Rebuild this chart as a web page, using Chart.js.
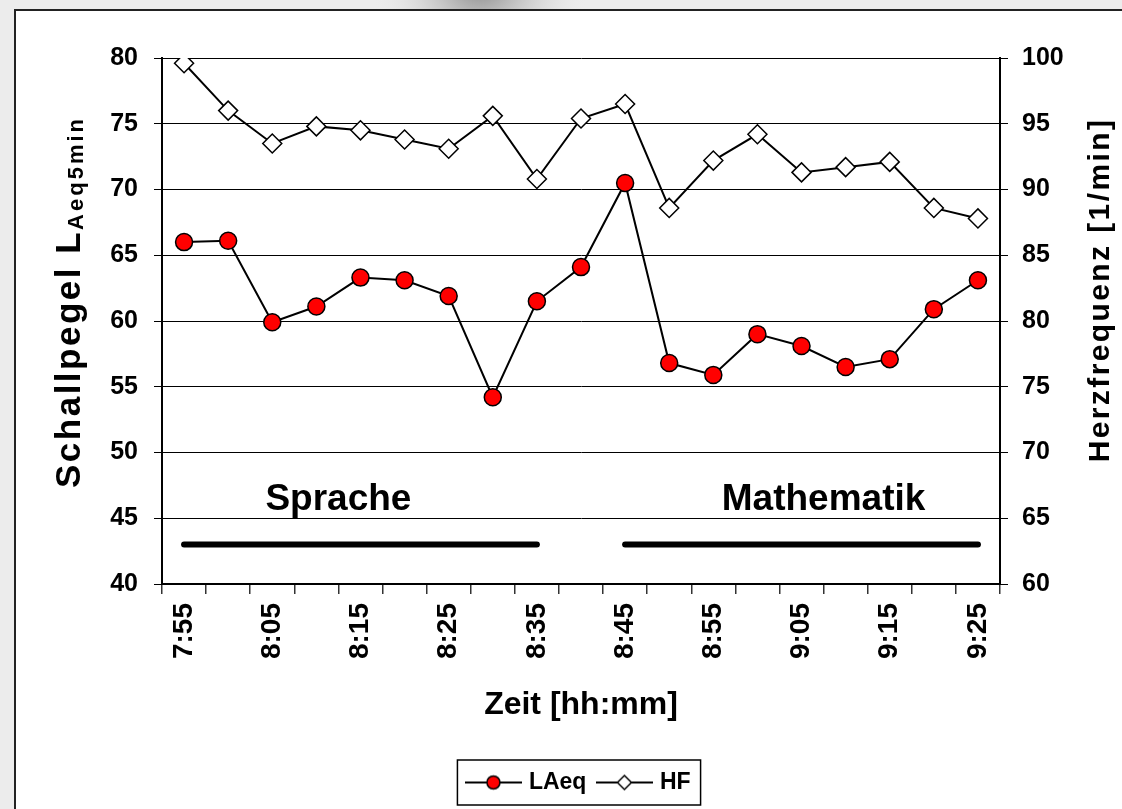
<!DOCTYPE html>
<html>
<head>
<meta charset="utf-8">
<title>Schallpegel und Herzfrequenz</title>
<script src="https://cdn.jsdelivr.net/npm/chart.js"></script>
<style>
  html, body { margin: 0; padding: 0; background: #ececec; }
  #wrap { position: absolute; left: 0; top: 0; width: 1122px; height: 809px; }
</style>
</head>
<body>
<div id="wrap"><canvas id="chart" width="1122" height="809"></canvas></div>
<script>
  // Zeitpunkte (5-min-Intervalle)
  const times = ['7:55', '8:00', '8:05', '8:10', '8:15', '8:20', '8:25', '8:30', '8:35', '8:40',
                 '8:45', '8:50', '8:55', '9:00', '9:05', '9:10', '9:15', '9:20', '9:25'];
  // Schallpegel LAeq,5min [dB(A)]
  const laeq = [66.0, 66.1, 59.9, 61.1, 63.3, 63.1, 61.9, 54.2, 61.5, 64.1,
                70.5, 56.8, 55.9, 59.0, 58.1, 56.5, 57.1, 60.9, 63.1];
  // Herzfrequenz [1/min]
  const hf = [99.6, 96.0, 93.5, 94.8, 94.5, 93.8, 93.1, 95.6, 90.8, 95.4,
              96.5, 88.6, 92.2, 94.2, 91.3, 91.7, 92.1, 88.6, 87.8];
  // Unterrichtsphasen
  const phaseNames = ['Sprache', 'Mathematik'];
  const phaseStart = [0, 10];
  const phaseEnd = [8, 18];
  const phaseLabelAt = [3.5, 14.5];
  const phaseLevel = 43;     // Höhe der Balken (linke Achse)
  const phaseTextLevel = 45.6;

  const FONT = '"Liberation Sans", Arial, Helvetica, sans-serif';
  const W = 1122, H = 809;

  const phaseData = phaseStart.map((s, k) =>
    times.map((t, i) => (i >= s && i <= phaseEnd[k]) ? phaseLevel : null));

  // kleine Legenden-Symbole: Linie mit Marker
  function legendSymbol(kind) {
    const c = document.createElement('canvas');
    c.width = 57; c.height = 20;
    const g = c.getContext('2d');
    g.strokeStyle = '#000'; g.lineWidth = 2;
    g.beginPath(); g.moveTo(0, 10); g.lineTo(57, 10); g.stroke();
    g.lineWidth = 1.5;
    g.beginPath();
    if (kind === 'circle') {
      g.fillStyle = '#ff0000';
      g.arc(28.5, 10, 6.5, 0, Math.PI * 2);
    } else {
      g.fillStyle = '#ffffff';
      g.moveTo(28.5, 3); g.lineTo(35.5, 10); g.lineTo(28.5, 17); g.lineTo(21.5, 10); g.closePath();
    }
    g.fill(); g.stroke();
    return c;
  }
  const symbols = [legendSymbol('circle'), legendSymbol('diamond')];

  // Rahmen + Hintergrund
  const framePlugin = {
    id: 'frame',
    beforeDraw(chart) {
      const ctx = chart.ctx;
      ctx.save();
      ctx.fillStyle = '#ececec';
      ctx.fillRect(0, 0, W, H);
      const g = ctx.createRadialGradient(480, -20, 5, 480, -20, 110);
      g.addColorStop(0, '#8a8a8a');
      g.addColorStop(1, 'rgba(236,236,236,0)');
      ctx.fillStyle = g;
      ctx.fillRect(330, 0, 300, 12);
      ctx.fillStyle = '#ffffff';
      ctx.fillRect(15, 10, W, H);
      ctx.strokeStyle = '#222';
      ctx.lineWidth = 2;
      ctx.beginPath();
      ctx.moveTo(15, H); ctx.lineTo(15, 10); ctx.lineTo(W, 10);
      ctx.stroke();
      ctx.restore();
    }
  };

  // Achsentitel, Phasen-Beschriftung, Legendenrahmen
  const extrasPlugin = {
    id: 'extras',
    afterDraw(chart) {
      const ctx = chart.ctx;
      const x = chart.scales.x, y = chart.scales.y;
      ctx.save();
      ctx.fillStyle = '#000';

      // Sprache / Mathematik
      ctx.font = 'bold 37px ' + FONT;
      ctx.textAlign = 'center';
      ctx.textBaseline = 'alphabetic';
      phaseNames.forEach((name, k) => {
        ctx.fillText(name, x.getPixelForValue(phaseLabelAt[k]), y.getPixelForValue(phaseTextLevel));
      });

      // linker Titel mit Index
      const mainTxt = 'Schallpegel L', subTxt = 'Aeq5min';
      ctx.letterSpacing = '2.5px';
      ctx.font = 'bold 35px ' + FONT;
      const w1 = ctx.measureText(mainTxt).width;
      ctx.letterSpacing = '3px';
      ctx.font = 'bold 22px ' + FONT;
      const w2 = ctx.measureText(subTxt).width;
      ctx.save();
      ctx.translate(80, 302);
      ctx.rotate(-Math.PI / 2);
      ctx.textAlign = 'left';
      ctx.letterSpacing = '2.5px';
      ctx.font = 'bold 35px ' + FONT;
      ctx.fillText(mainTxt, -(w1 + w2) / 2, 0);
      ctx.letterSpacing = '3px';
      ctx.font = 'bold 22px ' + FONT;
      ctx.fillText(subTxt, -(w1 + w2) / 2 + w1, 3);
      ctx.restore();

      // rechter Titel
      ctx.save();
      ctx.translate(1109, 290);
      ctx.rotate(-Math.PI / 2);
      ctx.textAlign = 'center';
      ctx.letterSpacing = '2.4px';
      ctx.font = 'bold 30px ' + FONT;
      ctx.fillText('Herzfrequenz [1/min]', 0, 0);
      ctx.restore();
      ctx.letterSpacing = '0px';

      // Rahmen um Legende
      const boxes = chart.legend.legendHitBoxes;
      if (boxes && boxes.length) {
        const l = Math.min(...boxes.map(b => b.left)) - 12;
        const r = Math.max(...boxes.map(b => b.left + b.width)) + 10;
        const t = Math.min(...boxes.map(b => b.top)) - 11;
        const b2 = Math.max(...boxes.map(b => b.top + b.height)) + 11;
        ctx.strokeStyle = '#000';
        ctx.lineWidth = 1.5;
        ctx.strokeRect(l, t, r - l, b2 - t);
      }
      ctx.restore();
    }
  };

  const ctx = document.getElementById('chart').getContext('2d');
  new Chart(ctx, {
    type: 'line',
    data: {
      labels: times,
      datasets: [
        {
          label: 'LAeq',
          data: laeq,
          yAxisID: 'y',
          borderColor: '#000',
          borderWidth: 2,
          pointStyle: 'circle',
          pointRadius: 8.5,
          pointBackgroundColor: '#ff0000',
          pointBorderColor: '#000',
          pointBorderWidth: 1.5,
          tension: 0
        },
        {
          label: 'HF',
          data: hf,
          yAxisID: 'y1',
          borderColor: '#000',
          borderWidth: 2,
          pointStyle: 'rectRot',
          pointRadius: 9.5,
          pointBackgroundColor: '#fff',
          pointBorderColor: '#000',
          pointBorderWidth: 1.5,
          tension: 0
        },
        {
          label: 'phase1',
          data: phaseData[0],
          yAxisID: 'y',
          borderColor: '#000',
          borderWidth: 6,
          borderCapStyle: 'round',
          pointRadius: 0,
          spanGaps: false
        },
        {
          label: 'phase2',
          data: phaseData[1],
          yAxisID: 'y',
          borderColor: '#000',
          borderWidth: 6,
          borderCapStyle: 'round',
          pointRadius: 0,
          spanGaps: false
        }
      ]
    },
    options: {
      responsive: false,
      animation: false,
      devicePixelRatio: 1,
      layout: { padding: { top: 58, left: 38, right: 0, bottom: 5 } },
      plugins: {
        tooltip: { enabled: false },
        legend: {
          position: 'bottom',
          labels: {
            usePointStyle: true,
            pointStyleWidth: 48,
            color: '#000',
            padding: 14,
            font: { family: FONT, size: 23, weight: 'bold' },
            filter: item => item.datasetIndex < 2,
            generateLabels(chart) {
              const items = Chart.defaults.plugins.legend.labels.generateLabels(chart);
              items.forEach(it => { if (it.datasetIndex < 2) it.pointStyle = symbols[it.datasetIndex]; });
              return items;
            }
          }
        }
      },
      scales: {
        x: {
          type: 'category',
          offset: true,
          afterFit(s) { s.height = 173; },
          grid: { offset: true, drawOnChartArea: false, drawTicks: true, tickLength: 10, color: '#333', lineWidth: 1.5 },
          border: { color: '#000', width: 2 },
          ticks: {
            autoSkip: false,
            maxRotation: 90,
            minRotation: 90,
            padding: 9,
            color: '#000',
            font: { family: FONT, size: 28, weight: 'bold' },
            callback(v, i) { return i % 2 === 0 ? times[i] : ''; }
          },
          title: {
            display: true,
            text: 'Zeit [hh:mm]',
            color: '#000',
            font: { family: FONT, size: 32, weight: 'bold' },
            padding: { top: 0, bottom: 33 }
          }
        },
        y: {
          position: 'left',
          min: 40,
          max: 80,
          afterFit(s) { s.width = 124; },
          ticks: { stepSize: 5, padding: 16, color: '#000', font: { family: FONT, size: 25, weight: 'bold' } },
          grid: { color: '#000', lineWidth: 1, tickLength: 8 },
          border: { color: '#000', width: 2 }
        },
        y1: {
          position: 'right',
          min: 60,
          max: 100,
          afterFit(s) { s.width = 122; },
          ticks: { stepSize: 5, padding: 14, color: '#000', font: { family: FONT, size: 25, weight: 'bold' } },
          grid: { drawOnChartArea: false, color: '#000', lineWidth: 1, tickLength: 8 },
          border: { color: '#000', width: 2 }
        }
      }
    },
    plugins: [framePlugin, extrasPlugin]
  });
</script>
</body>
</html>
